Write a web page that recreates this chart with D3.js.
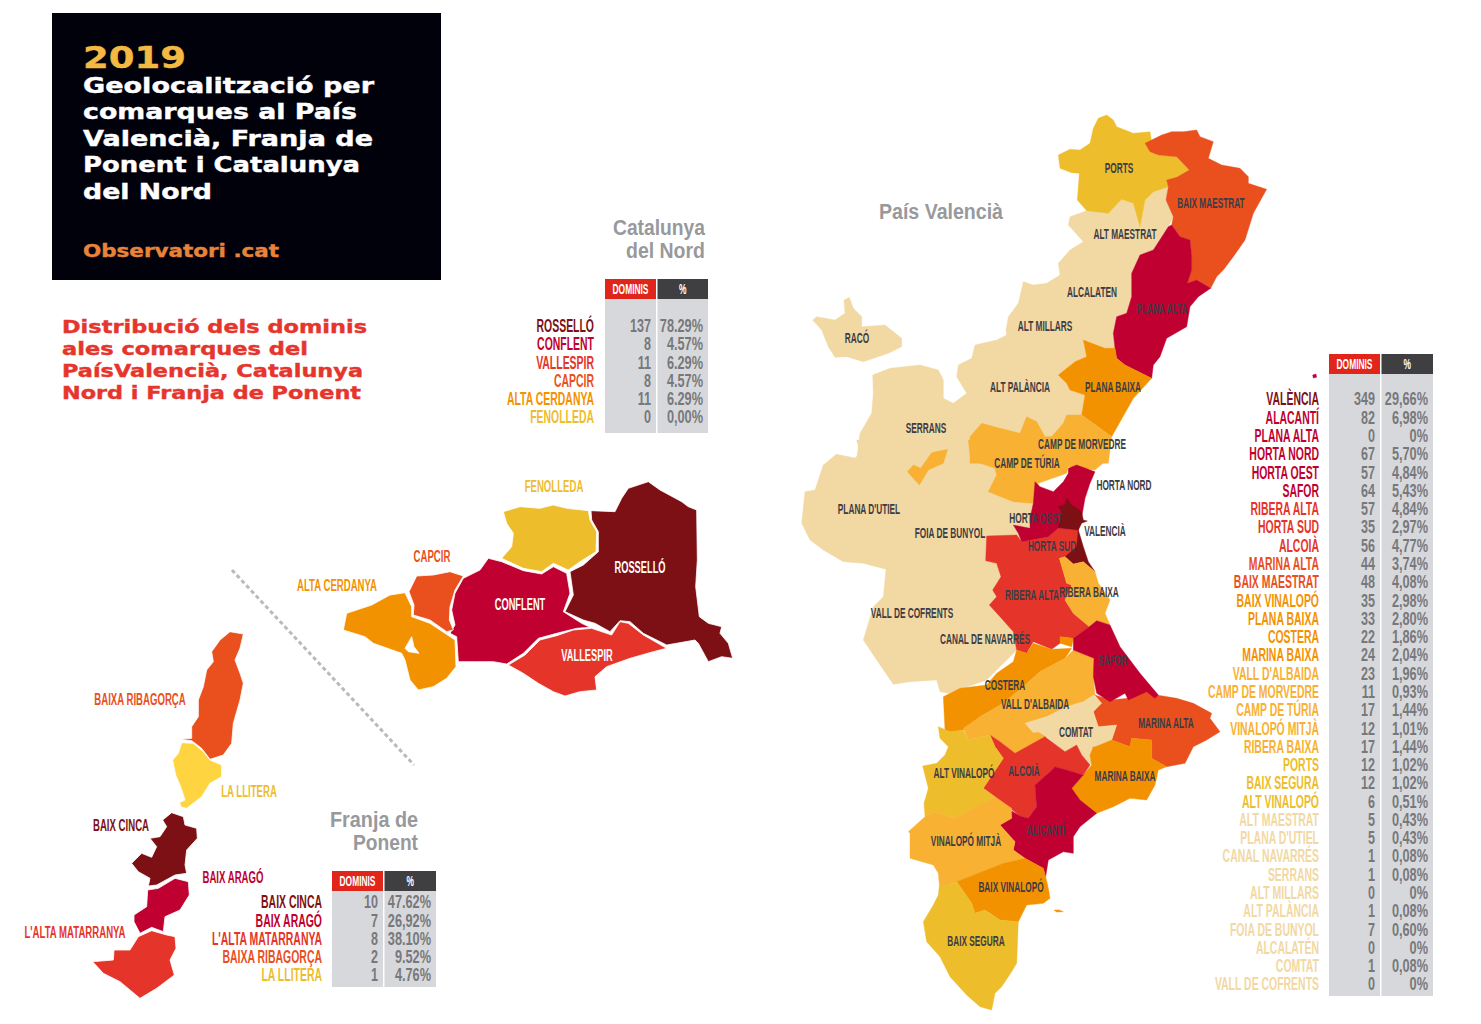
<!DOCTYPE html>
<html lang="ca">

<head>
    <meta charset="UTF-8">
    <title>Geolocalització per comarques 2019</title>
    <script src="https://d3js.org/d3.v7.min.js"></script>
    <style>
    body {
        margin: 0;
        background: white;
    }

    svg {
        display: block;
    }

    text {
        font-family: "Liberation Sans", sans-serif;
    }
    </style>
</head>

<body>
    <div class="content"></div>
    <script>
    // Dades de les taules
    const pvNames = ["VALÈNCIA", "ALACANTÍ", "PLANA ALTA", "HORTA NORD", "HORTA OEST", "SAFOR", "RIBERA ALTA", "HORTA SUD", "ALCOIÀ", "MARINA ALTA", "BAIX MAESTRAT", "BAIX VINALOPÓ", "PLANA BAIXA", "COSTERA", "MARINA BAIXA", "VALL D'ALBAIDA", "CAMP DE MORVEDRE", "CAMP DE TÚRIA", "VINALOPÓ MITJÀ", "RIBERA BAIXA", "PORTS", "BAIX SEGURA", "ALT VINALOPÓ", "ALT MAESTRAT", "PLANA D'UTIEL", "CANAL NAVARRÉS", "SERRANS", "ALT MILLARS", "ALT PALÀNCIA", "FOIA DE BUNYOL", "ALCALATÉN", "COMTAT", "VALL DE COFRENTS"];
    const pvDominis = [349, 82, 0, 67, 57, 64, 57, 35, 56, 44, 48, 35, 33, 22, 24, 23, 11, 17, 12, 17, 12, 12, 6, 5, 5, 1, 1, 0, 1, 7, 0, 1, 0];
    const pvPercent = ["29,66%", "6,98%", "0%", "5,70%", "4,84%", "5,43%", "4,84%", "2,97%", "4,77%", "3,74%", "4,08%", "2,98%", "2,80%", "1,86%", "2,04%", "1,96%", "0,93%", "1,44%", "1,01%", "1,44%", "1,02%", "1,02%", "0,51%", "0,43%", "0,43%", "0,08%", "0,08%", "0%", "0,08%", "0,60%", "0%", "0,08%", "0%"];
    const pvTier = [0, 1, 1, 1, 1, 1, 2, 2, 2, 3, 3, 4, 4, 4, 4, 5, 5, 5, 5, 5, 6, 6, 6, 7, 7, 7, 7, 7, 7, 7, 7, 7, 7];

    const cnNames = ["ROSSELLÓ", "CONFLENT", "VALLESPIR", "CAPCIR", "ALTA CERDANYA", "FENOLLEDA"];
    const cnDominis = [137, 8, 11, 8, 11, 0];
    const cnPercent = ["78.29%", "4.57%", "6.29%", "4.57%", "6.29%", "0,00%"];
    const cnTier = [0, 1, 2, 3, 4, 6];

    const frNames = ["BAIX CINCA", "BAIX ARAGÓ", "L'ALTA MATARRANYA", "BAIXA RIBAGORÇA", "LA LLITERA"];
    const frDominis = [10, 7, 8, 2, 1];
    const frPercent = ["47.62%", "26,92%", "38.10%", "9.52%", "4.76%"];
    const frTier = [0, 1, 2, 3, 6];

    // Contorns de les comarques: [nom, full, grup de color, punts]
    const shapes = [
        ["pale nord", "n", 7, "925,340 965,298 1000,310 1020,380 1035,300 1060,275 1105,258 1098,300 1120,350 1105,380 1060,450 1020,465 995,520 995,590 980,640 950,650 940,700 945,745 915,745 850,720 860,770 825,785 775,825 800,850 810,870 855,885 845,945 800,950 790,970 800,1090 90,1090 90,1080 120,1065 170,1075 175,1040 180,1000 215,940 220,880 218,825 270,805 360,795 415,810 430,840 430,895 460,910 500,880 470,830 475,795 515,775 525,735 590,720 620,705 618,690 625,650 655,610 670,545 700,555 740,550 780,525 775,490 810,450 850,425 805,375 810,350 860,332"],
        ["pale centre", "c", 7, "170,0 180,40 160,60 110,42 70,75 45,150 15,155 5,250 30,300 70,330 130,365 190,370 258,388 250,470 220,500 190,600 230,660 280,733 330,725 410,720 420,755 445,760 560,720 660,620 700,400 700,0"],
        ["Racó", "n", 7, "148,592 160,625 185,650 185,680 255,675 305,715 305,740 265,760 190,785 140,770 105,772 85,740 65,690 38,660 50,650 105,660 135,640 132,600"],
        ["Ports", "n", 6, "920,45 940,60 950,80 1000,100 1050,95 1055,125 1035,130 1050,155 1075,165 1130,170 1168,210 1130,232 1100,240 1105,260 1060,275 1035,300 1020,380 1000,310 965,298 925,340 860,332 832,300 838,220 815,218 780,205 775,165 810,148 840,150 870,130 880,85 895,55"],
        ["Baix Maestrat", "n", 3, "1035,130 1085,105 1115,95 1150,95 1190,90 1200,110 1240,125 1225,175 1265,195 1320,205 1345,230 1345,250 1400,268 1360,340 1335,420 1300,470 1270,510 1250,530 1232,565 1190,540 1162,550 1175,510 1175,470 1170,420 1140,410 1115,375 1120,350 1098,300 1105,260 1100,240 1130,232 1168,210 1130,170 1075,165 1050,155"],
        ["Plana Alta", "n", 1, "1115,375 1140,410 1170,420 1175,470 1175,510 1162,550 1190,540 1232,565 1195,590 1170,620 1160,680 1100,715 1080,770 1060,795 1055,835 975,795 950,775 945,745 940,700 950,650 980,640 995,590 995,520 1020,465 1060,450 1105,380"],
        ["Columbrets", "n", 1, "1538,825 1548,822 1550,832 1540,834"],
        ["Plana Baixa", "n", 4, "850,720 915,745 945,745 950,775 975,795 1055,835 1000,895 935,1010 845,945 855,885 810,870 800,850 775,825 825,785 860,770"],
        ["Camp nord", "n", 5, "510,1010 545,970 600,985 660,1000 680,950 710,965 735,1010 755,1010 790,970 800,945 845,945 935,1010 925,1090 510,1090"],
        ["Camp centre", "c", 5, "505,0 512,60 585,85 590,105 565,155 640,185 700,190 715,130 800,100 805,80 885,90 920,60 930,0"],
        ["Racó d'Ademús enclavament", "c", 5, "322,95 340,75 362,85 395,38 443,28 430,70 385,90 358,135"],
        ["Ribera Alta", "c", 2, "560,288 650,285 665,305 745,290 775,265 835,270 835,320 795,350 778,355 800,430 815,435 795,480 820,520 868,560 820,595 780,590 780,610 755,628 700,605 680,640 650,630 640,575 600,530 568,495 590,470 578,450 603,410 590,370 557,362"],
        ["Horta", "c", 1, "705,125 720,140 760,155 790,125 805,100 805,85 830,75 885,95 870,130 855,175 848,215 835,270 775,265 745,290 665,305 655,280 640,255 690,265 690,235 700,190"],
        ["València", "c", 0, "800,175 815,195 845,215 850,240 862,243 845,250 835,270 850,320 865,365 885,395 850,365 820,372 795,350 830,320 835,270 775,262 785,215 775,200 795,195"],
        ["Ribera Baixa", "c", 5, "778,355 795,350 820,372 850,365 885,395 895,430 930,480 915,520 930,555 890,542 868,560 820,520 795,480 815,435 800,430"],
        ["Costera", "c", 4, "430,770 480,745 560,735 590,700 640,665 650,630 680,640 700,610 755,628 815,625 795,655 720,695 670,740 610,790 540,830 490,870 450,876 435,870"],
        ["Costera enclavament", "c", 4, "780,590 820,595 815,620 780,610"],
        ["Vall d'Albaida", "c", 5, "820,630 885,655 880,710 885,765 850,785 800,800 740,830 675,850 740,890 645,940 600,905 570,885 505,900 490,865 540,830 610,790 670,740 720,695 795,655"],
        ["Marina Alta", "s", 3, "590,50 605,40 585,15 630,30 685,25 740,3 770,15 830,25 880,40 935,70 930,85 960,125 920,150 880,170 855,220 800,230 755,205 755,150 695,145 690,170 635,150 650,105 595,110 580,65"],
        ["Safor", "c", 1, "890,542 930,555 960,620 1020,700 1075,765 1065,775 1040,755 985,780 975,760 930,785 890,760 880,710 882,655 820,630 820,595 868,560"],
        ["Comtat", "s", 7, "375,100 440,80 500,50 550,35 580,15 605,40 580,65 595,110 650,105 635,150 580,170 570,195 585,220 565,225 545,195 530,165 495,185 440,140 415,125 400,128"],
        ["Marina Baixa", "s", 4, "585,170 635,150 690,170 695,145 755,150 755,205 800,230 775,240 765,285 740,330 690,325 640,350 590,370 540,330 515,295 550,255 575,225 570,195 580,170"],
        ["Alcoià", "s", 2, "270,135 300,155 345,190 390,165 435,140 495,185 530,165 545,195 570,225 550,255 500,240 465,230 450,245 405,285 410,350 385,385 360,378 330,355 285,320 250,295 310,205 285,170"],
        ["Alacantí", "s", 1, "465,230 500,240 550,255 515,295 540,330 590,370 540,410 520,440 520,490 490,485 445,510 437,560 430,535 375,505 340,480 345,455 300,405 335,385 330,360 360,378 385,385 410,350 405,285 450,245"],
        ["Alt Vinalopó", "s", 6, "115,110 150,125 190,120 205,150 270,135 285,170 310,205 250,295 285,320 250,340 200,365 165,385 100,365 75,380 72,340 85,295 68,228 110,220 135,195 145,170 120,145"],
        ["Vinalopó Mitjà", "s", 5, "100,365 165,385 200,365 285,320 335,355 335,385 300,405 345,455 340,480 375,505 310,520 170,575 150,585 118,585 115,550 100,525 30,505 30,430 25,425 75,380"],
        ["Baix Vinalopó", "s", 4, "170,575 310,520 375,505 430,535 437,560 445,595 450,625 430,640 380,645 355,695 300,690 255,660 225,670 215,640"],
        ["Tabarca", "s", 4, "462,660 478,660 490,665 470,666"],
        ["Baix Segura", "s", 6, "118,585 150,585 170,575 215,640 225,670 255,660 300,690 355,695 350,820 335,845 305,890 285,910 275,960 240,950 200,915 150,860 120,800 80,755 70,695 100,645 115,615"],
        ["Fenolleda", "cn", 6, "640,125 690,110 750,115 790,105 830,115 895,122 900,150 920,185 918,245 870,275 835,300 790,280 755,305 700,295 635,265 665,230 670,190 650,160"],
        ["Rosselló", "cn", 0, "903,122 975,125 995,85 1015,55 1075,35 1110,60 1175,95 1195,110 1220,120 1222,270 1217,350 1228,440 1255,460 1295,470 1290,490 1315,520 1328,565 1295,560 1255,575 1225,520 1215,510 1130,525 1060,490 1020,455 990,452 960,485 915,460 880,450 825,425 850,375 840,305 880,285 925,245 925,185 905,150"],
        ["Conflent", "cn", 1, "595,265 635,275 700,302 755,312 790,290 830,310 840,370 820,425 875,460 900,472 860,475 800,490 745,505 700,550 650,582 610,575 560,575 505,575 500,500 480,490 495,465 485,420 495,370 520,325 570,300"],
        ["Vallespir", "cn", 2, "655,585 705,555 750,510 800,497 850,480 905,475 965,495 990,455 1015,460 1060,495 1130,535 1090,545 1020,565 950,590 915,620 920,660 870,665 825,678 790,665 745,640 700,610"],
        ["Capcir", "cn", 3, "380,318 430,315 480,305 520,318 495,360 480,410 478,450 490,480 470,485 420,450 370,435 372,405 357,365"],
        ["Alta Cerdanya", "cn", 4, "300,375 345,368 365,410 365,440 420,460 465,490 495,510 498,590 470,625 430,650 385,660 360,630 345,570 335,550 250,520 225,500 160,480 170,430 245,405|345,535 365,500 372,530 387,550 355,545"],
        ["Baixa Ribagorça", "fr", 3, "660,35 700,42 690,85 675,120 690,160 700,190 690,240 670,310 665,370 640,405 600,418 575,385 545,362 510,358 545,355 545,320 565,290 565,240 580,200 590,150 610,125 605,95 630,60"],
        ["La Llitera", "fr", 8, "515,368 550,370 580,395 600,420 635,435 635,470 600,490 575,530 530,565 515,562 508,548 525,540 512,500 497,465 488,420 505,400"],
        ["Baix Cinca", "fr", 0, "485,578 520,590 525,615 560,625 562,655 530,690 525,735 530,760 495,765 440,795 415,798 420,775 385,755 365,730 395,700 425,712 440,680 420,655 450,650 470,620 458,600"],
        ["Baix Aragó", "fr", 1, "495,775 535,785 538,825 510,870 465,890 460,935 425,922 390,940 372,905 372,885 410,860 413,810 445,805"],
        ["Matarranya", "fr", 2, "425,932 470,945 495,950 498,985 480,1020 493,1065 440,1105 390,1135 330,1085 280,1060 248,1025 310,1020 312,990 360,990 385,950"]
    ];

    // Retols del mapa: [text, x, y]
    const darkLabels = [["PORTS", 1119, 168], ["BAIX MAESTRAT", 1211, 203], ["ALT MAESTRAT", 1125, 234], ["ALCALATEN", 1092, 292], ["PLANA ALTA", 1162, 309], ["ALT MILLARS", 1045, 326], ["RACÓ", 857, 338], ["ALT PALÀNCIA", 1020, 387], ["PLANA BAIXA", 1113, 387], ["SERRANS", 926, 428], ["CAMP DE MORVEDRE", 1082, 444], ["CAMP DE TÚRIA", 1027, 463], ["HORTA NORD", 1124, 485], ["PLANA D'UTIEL", 869, 509], ["HORTA OEST", 1036, 518], ["VALENCIÀ", 1105, 531], ["FOIA DE BUNYOL", 950, 533], ["HORTA SUD", 1052, 546], ["RIBERA ALTA", 1032, 595], ["RIBERA BAIXA", 1089, 592], ["VALL DE COFRENTS", 912, 613], ["CANAL DE NAVARRÉS", 985, 639], ["SAFOR", 1113, 660], ["COSTERA", 1005, 685], ["VALL D'ALBAIDA", 1035, 704], ["MARINA ALTA", 1166, 723], ["COMTAT", 1076, 732], ["ALT VINALOPÓ", 964, 773], ["ALCOIÀ", 1024, 771], ["MARINA BAIXA", 1125, 776], ["ALICANTÍ", 1046, 830], ["VINALOPÓ MITJÀ", 966, 841], ["BAIX VINALOPÓ", 1011, 887], ["BAIX SEGURA", 976, 941]];
    const tierLabels = [["FENOLLEDA", 554, 487, 6], ["CAPCIR", 432, 557, 3], ["ALTA CERDANYA", 337, 586, 4], ["BAIXA RIBAGORÇA", 140, 700, 3], ["LA LLITERA", 249, 792, 6], ["BAIX CINCA", 121, 826, 0], ["BAIX ARAGÓ", 233, 878, 1], ["L'ALTA MATARRANYA", 75, 933, 2]];
    const whiteLabels = [["ROSSELLÓ", 640, 568], ["CONFLENT", 520, 605], ["VALLESPIR", 587, 656]];

    var p = {
        svgWidth: 1481,
        svgHeight: 1024,
        tableFont: 19,
        labelFont: 14.5
    };

    var tierColor = d3.scaleOrdinal()
        .domain([0, 1, 2, 3, 4, 5, 6, 7, 8])
        .range(["#7d1014", "#bf0030", "#e5352a", "#e9501e", "#f39200", "#f8b133", "#edbd2c", "#f2d8a2", "#fed540"]);

    // Origen de cada full de dibuix (els punts estan a escala 3x)
    var sheets = {
        n: [800, 100],
        c: [800, 440],
        s: [900, 690],
        cn: [290, 470],
        fr: [10, 620]
    };

    var svg = d3.select(".content")
        .append("svg")
        .attr("width", p.svgWidth)
        .attr("height", p.svgHeight);

    function sheetLine(sheet) {
        var x = d3.scaleLinear().domain([0, 3]).range([sheets[sheet][0], sheets[sheet][0] + 1]);
        var y = d3.scaleLinear().domain([0, 3]).range([sheets[sheet][1], sheets[sheet][1] + 1]);
        return d3.line().x(d => x(d[0])).y(d => y(d[1])).curve(d3.curveLinearClosed);
    }

    function shapePath(d) {
        var line = sheetLine(d[1]);
        return d[3].split("|").map(ring => line(ring.split(" ").map(q => q.split(",").map(Number)))).join("");
    }

    // Text estret: mesura l'amplada natural i l'estreny amb textLength per semblar la condensada de l'original
    function narrowText(g, x, y, txt, size, fill, narrow, anchor) {
        var t = g.append("text")
            .attr("x", x)
            .attr("y", y)
            .attr("dy", "0.34em")
            .attr("text-anchor", anchor || "middle")
            .attr("font-size", size)
            .attr("font-weight", "bold")
            .attr("fill", fill)
            .text(txt);
        t.attr("textLength", t.node().getComputedTextLength() * narrow)
            .attr("lengthAdjust", "spacingAndGlyphs");
        return t;
    }

    // Capcalera
    svg.append("rect")
        .attr("x", 52).attr("y", 13)
        .attr("width", 389).attr("height", 267)
        .attr("fill", "#01010c");

    function titleLine(txt, x, y, w, size, fill) {
        svg.append("text")
            .attr("x", x).attr("y", y)
            .style("font-family", "DejaVu Sans")
            .attr("font-weight", "bold")
            .attr("font-size", size)
            .attr("textLength", w)
            .attr("lengthAdjust", "spacingAndGlyphs")
            .attr("fill", fill)
            .attr("stroke", fill)
            .attr("stroke-width", 0.4)
            .text(txt);
    }

    titleLine("2019", 83, 68, 103, 30, "#f4b942");
    [
        ["Geolocalització per", 93, 291],
        ["comarques al País", 119, 274],
        ["Valencià,  Franja de", 146, 290],
        ["Ponent i Catalunya", 172, 277],
        ["del Nord", 199, 129]
    ].forEach(l => titleLine(l[0], 83, l[1], l[2], 21, "white"));
    titleLine("Observatori .cat", 83, 257, 196, 18, "#e8843a");

    [
        ["Distribució dels dominis", 333, 305],
        ["ales comarques del", 355, 246],
        ["PaísValencià, Catalunya", 377, 301],
        ["Nord i Franja de Ponent", 399, 299]
    ].forEach(l => titleLine(l[0], 62, l[1], l[2], 17.5, "#e5352d"));

    // Titols de zona
    function zoneTitle(txt, x, y, w) {
        svg.append("text")
            .attr("x", x).attr("y", y)
            .attr("font-size", 22)
            .attr("font-weight", "bold")
            .attr("textLength", w)
            .attr("lengthAdjust", "spacingAndGlyphs")
            .attr("fill", "#98999d")
            .text(txt);
    }
    zoneTitle("País Valencià", 879, 219, 124);
    zoneTitle("Catalunya", 613, 235, 92);
    zoneTitle("del Nord", 626, 258, 79);
    zoneTitle("Franja de", 330, 827, 88);
    zoneTitle("Ponent", 353, 850, 65);

    // Separador
    svg.append("line")
        .attr("x1", 232).attr("y1", 570)
        .attr("x2", 414).attr("y2", 765)
        .attr("stroke", "#b9babd")
        .attr("stroke-width", 3)
        .attr("stroke-dasharray", "4,3");

    // Mapa
    svg.append("g")
        .selectAll("path")
        .data(shapes)
        .join("path")
        .attr("d", shapePath)
        .attr("fill", d => tierColor(d[2]))
        .attr("fill-rule", "evenodd")
        .attr("stroke", d => (d[1] === "cn" || d[1] === "fr") ? "white" : tierColor(d[2]))
        .attr("stroke-width", d => (d[1] === "cn" || d[1] === "fr") ? 0.8 : 0.4)
        .attr("stroke-linejoin", "round");

    var labels = svg.append("g");
    darkLabels.forEach(l => narrowText(labels, l[1], l[2], l[0], p.labelFont, "#3c3c46", 0.57));
    tierLabels.forEach(l => narrowText(labels, l[1], l[2], l[0], p.labelFont + 1.5, tierColor(l[3]), 0.6));
    whiteLabels.forEach(l => narrowText(labels, l[1], l[2], l[0], p.labelFont + 1.5, "white", 0.58));

    // Taules
    function drawTable(o) {
        var g = svg.append("g");
        var w1 = o.x1 - o.x0, w2 = o.x2 - o.x1 - 1.5;
        var rows = d3.scalePoint().domain(d3.range(o.names.length)).range([o.rowFirst, o.rowLast]);

        g.append("rect").attr("x", o.x0).attr("y", o.top).attr("width", w1).attr("height", 20).attr("fill", "#e1251b");
        g.append("rect").attr("x", o.x1 + 1.5).attr("y", o.top).attr("width", w2).attr("height", 20).attr("fill", "#3f3f41");
        g.append("rect").attr("x", o.x0).attr("y", o.top + 20).attr("width", w1).attr("height", o.bottom - o.top - 20).attr("fill", "#d7d8dc");
        g.append("rect").attr("x", o.x1 + 1.5).attr("y", o.top + 20).attr("width", w2).attr("height", o.bottom - o.top - 20).attr("fill", "#d7d8dc");

        narrowText(g, o.x0 + w1 / 2, o.top + 10, "DOMINIS", 15, "white", 0.56);
        narrowText(g, o.x1 + 1.5 + w2 / 2, o.top + 10, "%", 14, "white", 0.6);

        o.names.forEach(function(name, i) {
            narrowText(g, o.nameX, rows(i), name, p.tableFont, tierColor(o.tier[i]), 0.55, "end");
            narrowText(g, o.x1 - 5, rows(i), o.dominis[i], p.tableFont, "#77787b", 0.66, "end");
            narrowText(g, o.x2 - 5, rows(i), o.percent[i], p.tableFont, "#77787b", 0.67, "end");
        });
    }

    drawTable({
        names: pvNames, dominis: pvDominis, percent: pvPercent, tier: pvTier,
        x0: 1329, x1: 1380, x2: 1433, top: 354, bottom: 996,
        rowFirst: 399, rowLast: 984, nameX: 1319
    });
    drawTable({
        names: cnNames, dominis: cnDominis, percent: cnPercent, tier: cnTier,
        x0: 605, x1: 656, x2: 708, top: 279, bottom: 433,
        rowFirst: 325.5, rowLast: 417, nameX: 594
    });
    drawTable({
        names: frNames, dominis: frDominis, percent: frPercent, tier: frTier,
        x0: 332, x1: 383, x2: 436, top: 871, bottom: 987,
        rowFirst: 902, rowLast: 975, nameX: 322
    });
    </script>
</body>

</html>
